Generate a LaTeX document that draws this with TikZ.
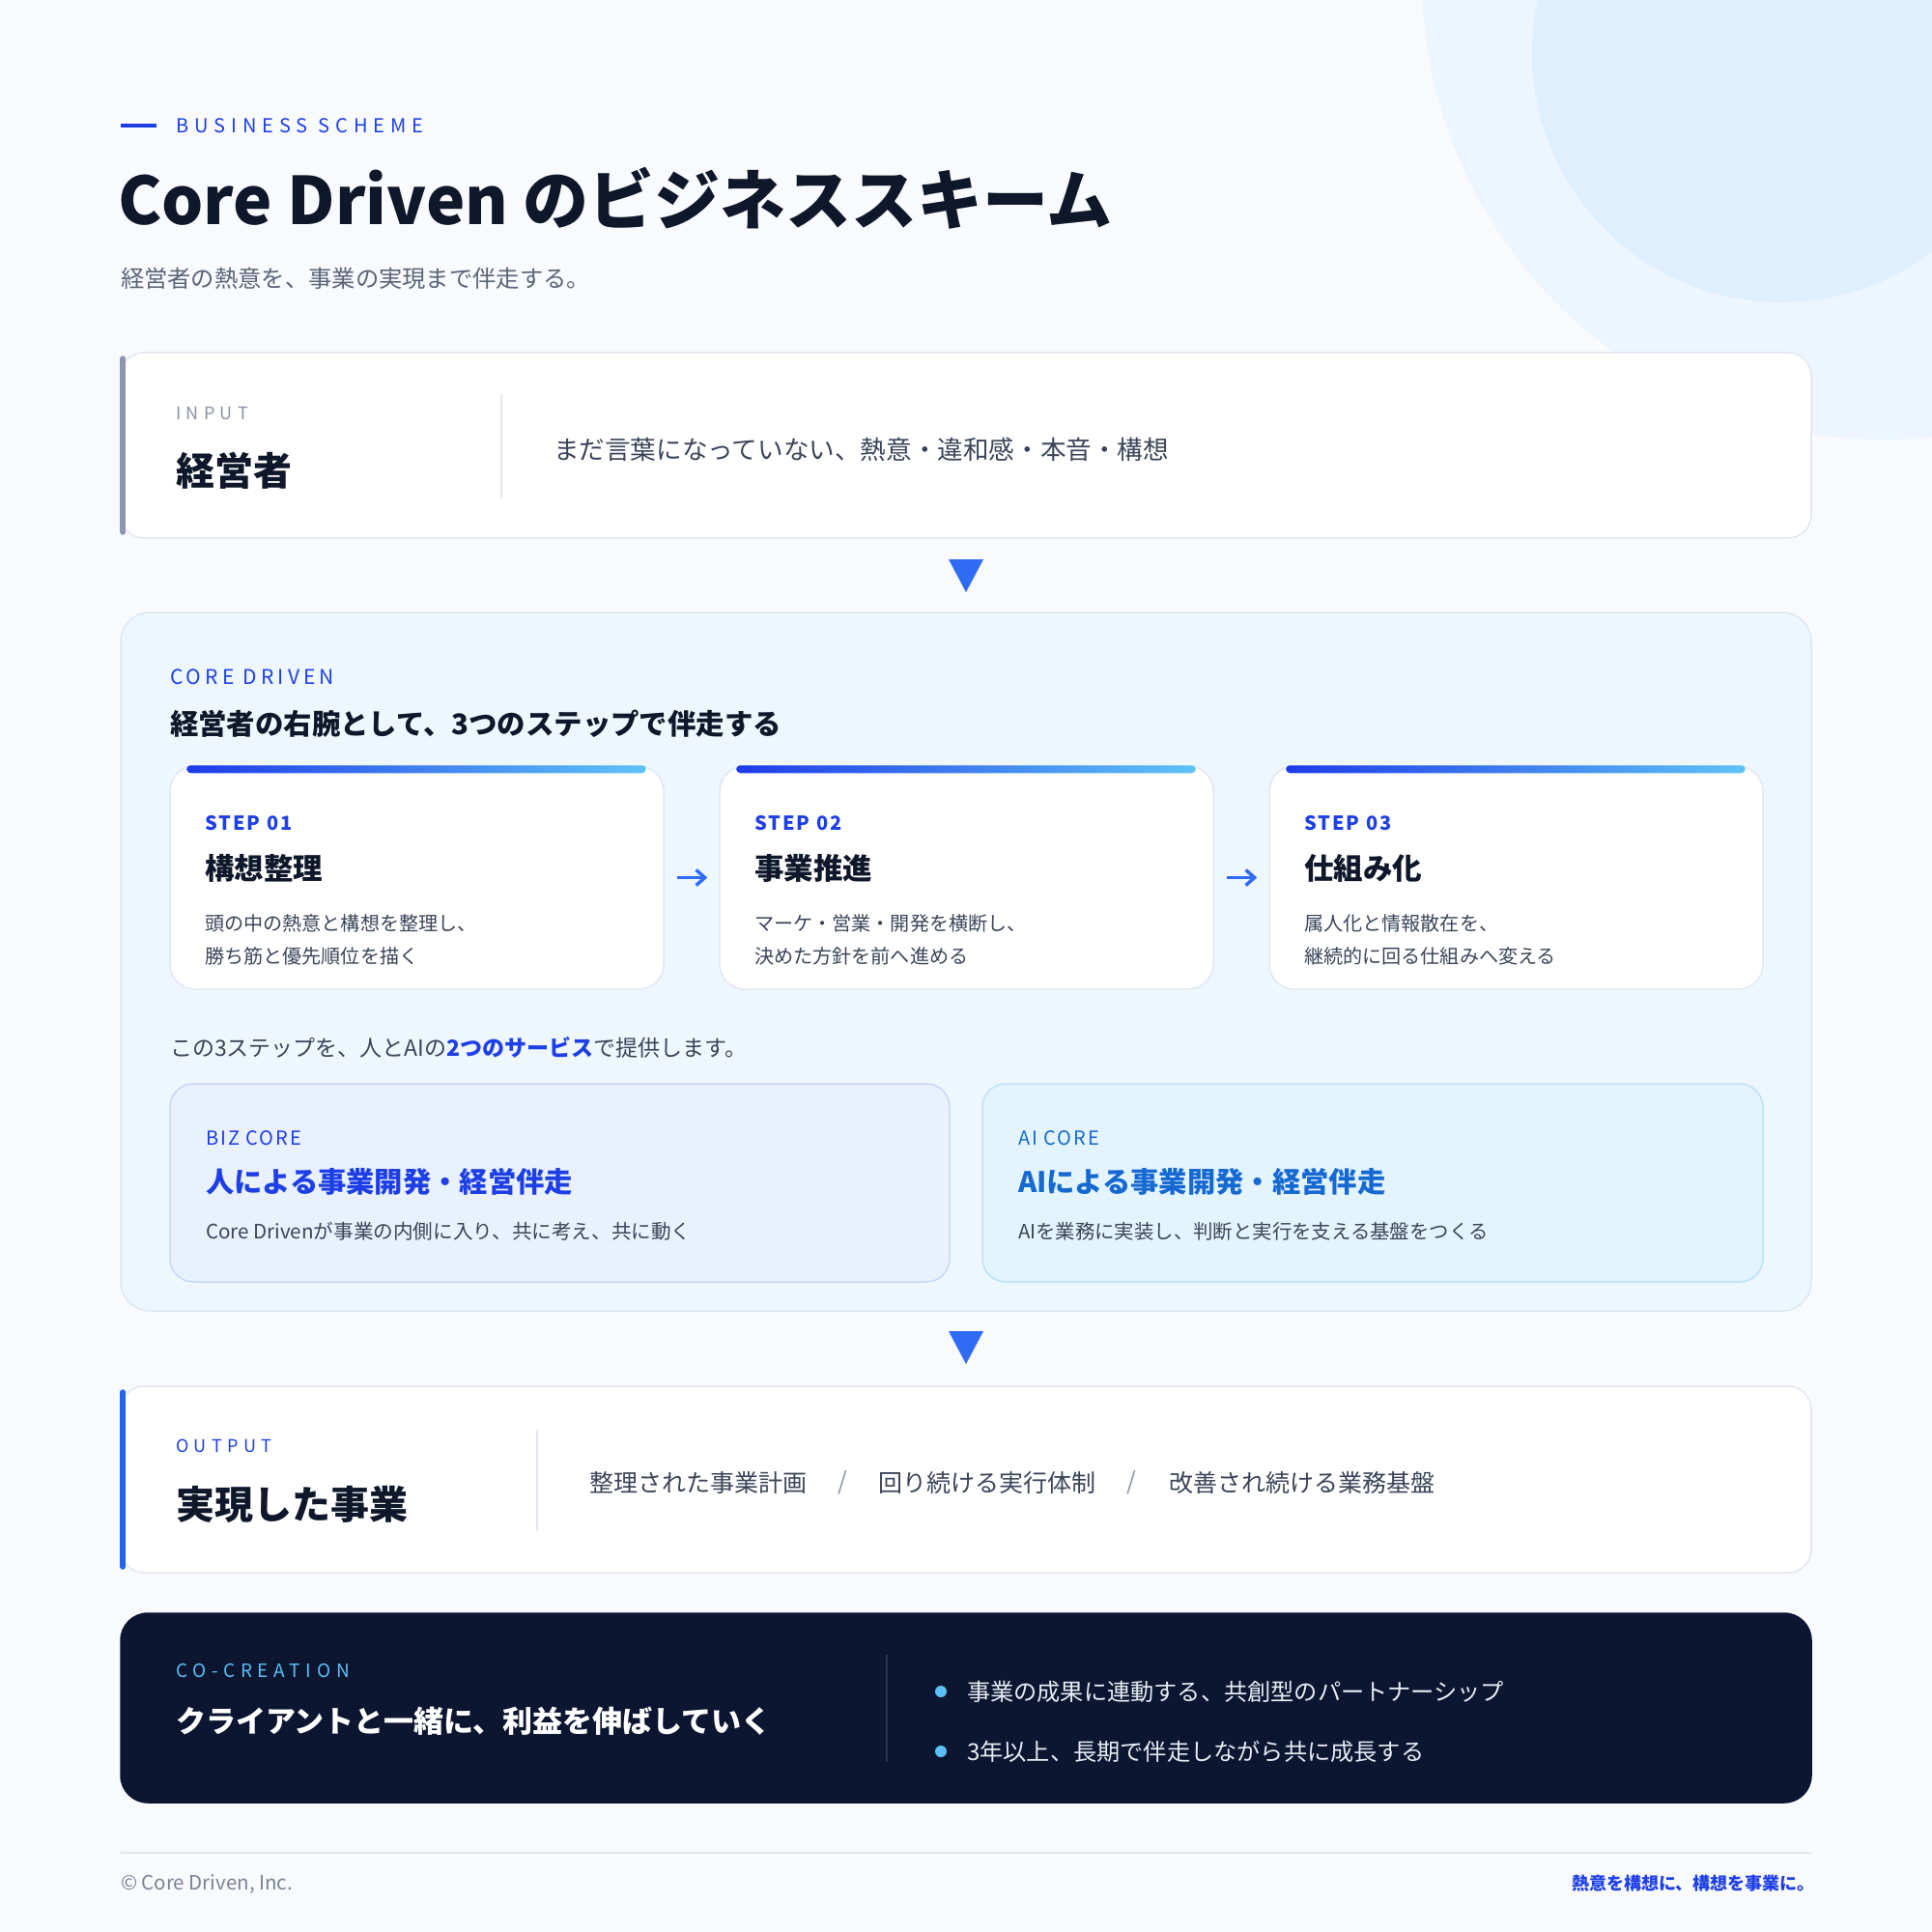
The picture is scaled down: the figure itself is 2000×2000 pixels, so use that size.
\documentclass[tikz,border=0pt]{standalone}
\usepackage{fontspec}
\setmainfont{Noto Sans CJK JP}
\newfontfamily\trkw{Noto Sans CJK JP}[LetterSpace=30]
\newfontfamily\trkm{Noto Sans CJK JP}[LetterSpace=20]
\newfontfamily\trks{Noto Sans CJK JP}[LetterSpace=10]
\usetikzlibrary{arrows.meta,calc}
\definecolor{bgc}{HTML}{F8FAFD}
\definecolor{circA}{HTML}{EDF5FE}
\definecolor{circB}{HTML}{DFEFFD}
\definecolor{navy}{HTML}{0F172A}
\definecolor{bluet}{HTML}{1E3FE6}
\definecolor{aiblue}{HTML}{1769D2}
\definecolor{midblue}{HTML}{2F6BF5}
\definecolor{graytext}{HTML}{5B6478}
\definecolor{bodytext}{HTML}{3B4459}
\definecolor{inlabel}{HTML}{8A91A3}
\definecolor{lineg}{HTML}{E3E7EE}
\definecolor{inbar}{HTML}{8E97AF}
\definecolor{outbar}{HTML}{2563EB}
\definecolor{corefill}{HTML}{EEF6FE}
\definecolor{coreline}{HTML}{DDE8F5}
\definecolor{cardline}{HTML}{E2E8F2}
\definecolor{bizfill}{HTML}{E9F1FE}
\definecolor{bizline}{HTML}{C5D8F6}
\definecolor{aifill}{HTML}{E3F4FE}
\definecolor{ailine}{HTML}{BDE2F8}
\definecolor{darkbox}{HTML}{0C1631}
\definecolor{cyanl}{HTML}{5BBEF5}
\definecolor{darkdiv}{HTML}{2B3654}
\definecolor{lighttext}{HTML}{E8ECF4}
\definecolor{gradA}{HTML}{1E3BE8}
\definecolor{gradB}{HTML}{5EC3F7}
\definecolor{slashc}{HTML}{8A93A8}
\definecolor{footc}{HTML}{7A8296}
\newcommand\fsz[1]{\fontsize{#1pt}{#1pt}\selectfont}
\begin{document}
\begin{tikzpicture}[x=1pt,y=-1pt,
  txt/.style={anchor=west, inner sep=0pt, outer sep=0pt},
  panel/.style={rectangle, inner sep=0pt, line width=1.5pt, rounded corners=24pt},
  stepcard/.style={panel, draw=cardline, fill=white, minimum width=511pt, minimum height=231pt, rounded corners=26pt},
  tri/.style={fill=midblue},
  steparrow/.style={draw=midblue, line width=3.5pt, shorten <=13pt, shorten >=12pt, -{Straight Barb[length=9pt,width=16pt,line width=3.5pt]}},
  divider/.style={draw=lineg, line width=1.5pt},
  gradbar/.style={left color=gradA, right color=gradB, rounded corners=4pt}
]
\fill[bgc] (0,0) rectangle (2000,2000);
\useasboundingbox (0,0) rectangle (2000,2000);
\begin{scope}
\clip (0,0) rectangle (2000,2000);
\fill[circA] (1951,-24) circle[radius=479pt];
\fill[circB] (1844,55) circle[radius=258pt];
\end{scope}

% header
\draw[bluet, line width=4pt] (125,130) -- (162,130);
\node[txt, text=bluet, font=\trkw\fsz{20}] (kicker) at (182,130) {BUSINESS SCHEME};
\node[txt, text=navy, font=\bfseries\fsz{68}] (title) at (122,205) {Core Driven のビジネススキーム};
\node[txt, text=graytext, font=\fsz{24.3}] (subtitle) at (125,288) {経営者の熱意を、事業の実現まで伴走する。};

% input box
\node[panel, draw=lineg, fill=white, minimum width=1750pt, minimum height=192pt] (input) at (1000,461) {};
\draw[inbar, line width=6pt, line cap=round] ([xshift=3pt,yshift=-7pt]input.north west) -- ([xshift=3pt,yshift=7pt]input.south west);
\node[txt, text=inlabel, font=\trkw\fsz{18}] (inlab) at (182,428) {INPUT};
\node[txt, text=navy, font=\bfseries\fsz{40}] (inname) at (182,487) {経営者};
\draw[divider] (519,408) -- (519,515);
\node[txt, text=bodytext, font=\fsz{26.6}] (intext) at (573,465) {まだ言葉になっていない、熱意・違和感・本音・構想};

\fill[tri] (982,579) -- (1018,579) -- (1000,613) -- cycle;

% core panel
\node[panel, draw=coreline, fill=corefill, minimum width=1750pt, minimum height=723pt, rounded corners=30pt] (core) at (1000,995.5) {};
\node[txt, text=bluet, font=\trkm\fsz{21}] (corelab) at (176,701) {CORE DRIVEN};
\node[txt, text=navy, font=\bfseries\fsz{29.4}] (corehead) at (176,749) {経営者の右腕として、3つのステップで伴走する};

\foreach \i/\cx/\lab/\ttl/\la/\lb in {
  1/431.5/STEP 01/構想整理/頭の中の熱意と構想を整理し、/勝ち筋と優先順位を描く,
  2/1000.5/STEP 02/事業推進/マーケ・営業・開発を横断し、/決めた方針を前へ進める,
  3/1569.5/STEP 03/仕組み化/属人化と情報散在を、/継続的に回る仕組みへ変える}{
  \node[stepcard] (s\i) at (\cx,908.5) {};
  \shade[gradbar] ([xshift=18pt]s\i.north west) rectangle ([xshift=-19pt,yshift=-8pt]s\i.north east);
  \node[txt, text=bluet, font=\trks\bfseries\fsz{20}] (s\i lab) at ([xshift=37pt]s\i.west |- 0,852) {\lab};
  \node[txt, text=navy, font=\bfseries\fsz{30.5}] (s\i ttl) at ([xshift=37pt]s\i.west |- 0,899) {\ttl};
  \node[txt, text=bodytext, font=\fsz{20.1}] (s\i a) at ([xshift=37pt]s\i.west |- 0,956) {\la};
  \node[txt, text=bodytext, font=\fsz{20.1}] (s\i b) at ([xshift=37pt]s\i.west |- 0,990) {\lb};
}
\draw[steparrow] (s1.east) -- (s2.west);
\draw[steparrow] (s2.east) -- (s3.west);

\node[txt, text=bodytext, font=\fsz{23}] (svc) at (176,1084) {この3ステップを、人とAIの{\bfseries\color{bluet}2つのサービス}で提供します。};

\node[panel, draw=bizline, fill=bizfill, minimum width=807pt, minimum height=205pt] (biz) at (579.5,1224.5) {};
\node[panel, draw=ailine, fill=aifill, minimum width=808pt, minimum height=205pt] (ai) at (1421,1224.5) {};
\node[txt, text=bluet, font=\trks\fsz{20}] (bizlab) at (213,1178) {BIZ CORE};
\node[txt, text=bluet, font=\bfseries\fsz{29.3}] (bizttl) at (213,1223) {人による事業開発・経営伴走};
\node[txt, text=bodytext, font=\fsz{20.6}] (biztxt) at (213,1275) {Core Drivenが事業の内側に入り、共に考え、共に動く};
\node[txt, text=aiblue, font=\trks\fsz{20}] (ailab) at (1054,1178) {AI CORE};
\node[txt, text=aiblue, font=\bfseries\fsz{29.3}] (aittl) at (1054,1223) {AIによる事業開発・経営伴走};
\node[txt, text=bodytext, font=\fsz{20.4}] (aitxt) at (1054,1275) {AIを業務に実装し、判断と実行を支える基盤をつくる};

\fill[tri] (982,1378) -- (1018,1378) -- (1000,1412) -- cycle;

% output box
\node[panel, draw=lineg, fill=white, minimum width=1750pt, minimum height=193pt] (output) at (1000,1531.5) {};
\draw[outbar, line width=6pt, line cap=round] ([xshift=3pt,yshift=-7pt]output.north west) -- ([xshift=3pt,yshift=7pt]output.south west);
\node[txt, text=bluet, font=\trkw\fsz{18}] (outlab) at (182,1497) {OUTPUT};
\node[txt, text=navy, font=\bfseries\fsz{40}] (outname) at (182,1557) {実現した事業};
\draw[divider] (556,1480) -- (556,1585);
\node[txt, text=bodytext, font=\fsz{25}] (o1) at (610,1535) {整理された事業計画};
\node[inner sep=0pt, text=slashc, font=\fsz{25}] (sl1) at (872,1535) {/};
\node[txt, text=bodytext, font=\fsz{25}] (o2) at (909,1535) {回り続ける実行体制};
\node[inner sep=0pt, text=slashc, font=\fsz{25}] (sl2) at (1171,1535) {/};
\node[txt, text=bodytext, font=\fsz{25}] (o3) at (1210,1535) {改善され続ける業務基盤};

% co-creation
\node[panel, draw=darkbox, fill=darkbox, minimum width=1750pt, minimum height=196pt, rounded corners=28pt] (cocre) at (1000,1768) {};
\node[txt, text=cyanl, font=\trkw\fsz{19}] (colab) at (182,1730) {CO-CREATION};
\node[txt, text=white, font=\bfseries\fsz{31}] (cohead) at (182,1782) {クライアントと一緒に、利益を伸ばしていく};
\draw[darkdiv, line width=1.5pt] (918,1713) -- (918,1824);
\fill[cyanl] (974,1751) circle[radius=6pt];
\node[txt, text=lighttext, font=\fsz{24.2}] (b1) at (1001,1751) {事業の成果に連動する、共創型のパートナーシップ};
\fill[cyanl] (974,1813) circle[radius=6pt];
\node[txt, text=lighttext, font=\fsz{24.2}] (b2) at (1001,1813) {3年以上、長期で伴走しながら共に成長する};

% footer
\draw[lineg, line width=1.5pt] (125,1918) -- (1875,1918);
\node[txt, text=footc, font=\fsz{20.5}] (copy) at (125,1950) {© Core Driven, Inc.};
\node[anchor=east, inner sep=0pt, text=bluet, font=\bfseries\fsz{18}] (motto) at (1879,1950) {熱意を構想に、構想を事業に。};
\end{tikzpicture}
\end{document}
